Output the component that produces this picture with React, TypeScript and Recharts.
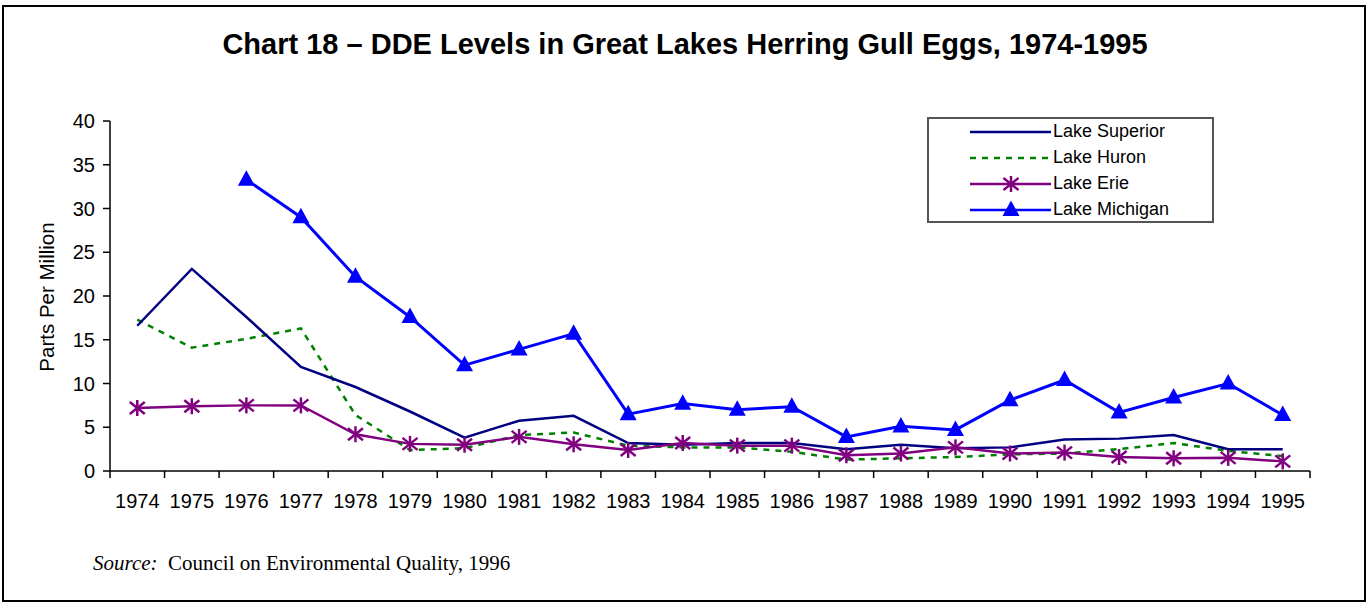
import React from "react";
import { LineChart, Line, XAxis, YAxis } from "recharts";

const YEARS = [
  "1974", "1975", "1976", "1977", "1978", "1979", "1980", "1981", "1982", "1983", "1984",
  "1985", "1986", "1987", "1988", "1989", "1990", "1991", "1992", "1993", "1994", "1995",
];
const SUPERIOR = [16.6, 23.1, 17.6, 11.9, 9.6, 6.8, 3.8, 5.75, 6.3, 3.2, 3.0, 3.2, 3.2, 2.5, 3.0, 2.6, 2.7, 3.6, 3.7, 4.1, 2.5, 2.5];
const HURON = [17.3, 14.1, 15.1, 16.3, 6.4, 2.4, 2.6, 4.1, 4.4, 2.9, 2.7, 2.7, 2.2, 1.3, 1.45, 1.6, 1.9, 2.0, 2.5, 3.2, 2.3, 1.7];
const ERIE = [7.2, 7.4, 7.5, 7.5, 4.2, 3.1, 3.0, 3.9, 3.05, 2.4, 3.2, 2.9, 2.9, 1.8, 2.0, 2.7, 2.0, 2.1, 1.6, 1.45, 1.5, 1.1];
const MICHIGAN = [null, null, 33.3, 29.0, 22.2, 17.6, 12.1, 13.9, 15.7, 6.5, 7.7, 7.0, 7.35, 3.9, 5.1, 4.7, 8.1, 10.4, 6.7, 8.4, 10.0, 6.4];
const Y_TICKS = [0, 5, 10, 15, 20, 25, 30, 35, 40];

const data = YEARS.map((year, i) => ({
  x: i,
  year,
  superior: SUPERIOR[i],
  huron: HURON[i],
  erie: ERIE[i],
  michigan: MICHIGAN[i],
}));

// tick marks sit between categories, labels in the middle of each band
const X_TICKS = [...YEARS.map((_, i) => i - 0.5), YEARS.length - 0.5];

const W = 1367;
const H = 602;
const PLOT_LEFT = 110;
const PLOT_RIGHT = 1310;
const PLOT_TOP = 121;
const PLOT_BOTTOM = 471;
const HALF_BAND = (PLOT_RIGHT - PLOT_LEFT) / YEARS.length / 2;

const SANS = "'Liberation Sans', Arial, sans-serif";
const SERIF = "'Liberation Serif', 'Times New Roman', serif";

const COLORS = {
  superior: "#000080",
  huron: "#008000",
  erie: "#800080",
  michigan: "#0000ff",
};

function YearTick(props: any) {
  const { x, y, payload } = props;
  const label = YEARS[payload.value + 0.5];
  if (!label) return null;
  return (
    <text x={x + HALF_BAND} y={y} dy="0.71em" textAnchor="middle" fill="#000" fontSize={20} fontFamily={SANS}>
      {label}
    </text>
  );
}

function Star(props: any) {
  const { cx, cy } = props;
  if (cx == null || cy == null) return null;
  const c = COLORS.erie;
  return (
    <g stroke={c} strokeWidth={2.5}>
      <line x1={cx} y1={cy - 8} x2={cx} y2={cy + 8} />
      <line x1={cx - 7.5} y1={cy - 6} x2={cx + 7.5} y2={cy + 6} />
      <line x1={cx - 7.5} y1={cy + 6} x2={cx + 7.5} y2={cy - 6} />
    </g>
  );
}

function Tri(props: any) {
  const { cx, cy, value } = props;
  if (cx == null || cy == null || value == null) return null;
  return (
    <path d={`M${cx},${cy - 9.5} L${cx + 8.5},${cy + 6} L${cx - 8.5},${cy + 6} Z`} fill={COLORS.michigan} />
  );
}

const LEGEND = [
  { name: "Lake Superior", color: COLORS.superior, dash: undefined, marker: null },
  { name: "Lake Huron", color: COLORS.huron, dash: "6 6", marker: null },
  { name: "Lake Erie", color: COLORS.erie, dash: undefined, marker: "star" },
  { name: "Lake Michigan", color: COLORS.michigan, dash: undefined, marker: "tri" },
];

export default function App() {
  return (
    <div style={{ position: "absolute", left: 0, top: 0, width: W, height: H, background: "#fff" }}>
      {/* outer frame */}
      <div
        style={{
          position: "absolute",
          left: 2,
          top: 5,
          width: 1360,
          height: 593,
          border: "2px solid #000",
        }}
      />

      <div
        style={{
          position: "absolute",
          left: 0,
          width: 1370,
          top: 28,
          textAlign: "center",
          fontFamily: SANS,
          fontWeight: "bold",
          fontSize: 29,
          color: "#000",
        }}
      >
        Chart 18 – DDE Levels in Great Lakes Herring Gull Eggs, 1974-1995
      </div>

      <LineChart
        width={W}
        height={H}
        data={data}
        margin={{ top: PLOT_TOP, left: PLOT_LEFT - 60, right: W - PLOT_RIGHT, bottom: H - PLOT_BOTTOM - 40 }}
        style={{ position: "absolute", left: 0, top: 0 }}
      >
        <XAxis
          dataKey="x"
          type="number"
          domain={[-0.5, YEARS.length - 0.5]}
          ticks={X_TICKS}
          interval={0}
          height={40}
          tickSize={7}
          tickMargin={16}
          axisLine={{ stroke: "#000", strokeWidth: 1.5 }}
          tickLine={{ stroke: "#000", strokeWidth: 1.5 }}
          tick={<YearTick />}
        />
        <YAxis
          domain={[0, 40]}
          ticks={Y_TICKS}
          interval={0}
          width={60}
          tickSize={7}
          tickMargin={8}
          axisLine={{ stroke: "#000", strokeWidth: 1.5 }}
          tickLine={{ stroke: "#000", strokeWidth: 1.5 }}
          tick={{ fill: "#000", fontSize: 20, fontFamily: SANS }}
        />
        <Line
          dataKey="huron"
          stroke={COLORS.huron}
          strokeWidth={2.5}
          strokeDasharray="6 6"
          dot={false}
          isAnimationActive={false}
        />
        <Line
          dataKey="superior"
          stroke={COLORS.superior}
          strokeWidth={2.5}
          dot={false}
          isAnimationActive={false}
        />
        <Line
          dataKey="erie"
          stroke={COLORS.erie}
          strokeWidth={2.5}
          dot={<Star />}
          isAnimationActive={false}
        />
        <Line
          dataKey="michigan"
          stroke={COLORS.michigan}
          strokeWidth={3}
          dot={<Tri />}
          isAnimationActive={false}
        />
      </LineChart>

      {/* y axis title */}
      <div
        style={{
          position: "absolute",
          left: 47,
          top: 297,
          transform: "translate(-50%, -50%) rotate(-90deg)",
          whiteSpace: "nowrap",
          fontFamily: SANS,
          fontSize: 20.5,
          color: "#000",
        }}
      >
        Parts Per Million
      </div>

      {/* legend */}
      <div
        style={{
          position: "absolute",
          left: 927,
          top: 117,
          width: 283,
          height: 102,
          border: "2px solid #555",
          background: "#fff",
        }}
      >
        {LEGEND.map((item, i) => (
          <div
            key={item.name}
            style={{
              position: "absolute",
              left: 0,
              top: -0.5 + i * 26,
              height: 26,
              display: "flex",
              alignItems: "center",
            }}
          >
            <svg width={124} height={26} style={{ display: "block" }}>
              <line x1={41} y1={13} x2={122} y2={13} stroke={item.color} strokeWidth={2.5} strokeDasharray={item.dash} />
              {item.marker === "star" && <Star cx={82} cy={13} />}
              {item.marker === "tri" && <Tri cx={82} cy={13} value={1} />}
            </svg>
            <span style={{ fontFamily: SANS, fontSize: 18, color: "#000", whiteSpace: "nowrap" }}>{item.name}</span>
          </div>
        ))}
      </div>

      <div
        style={{
          position: "absolute",
          left: 93,
          top: 551,
          fontFamily: SERIF,
          fontSize: 21,
          color: "#000",
          whiteSpace: "pre",
        }}
      >
        <i>Source:</i>
        {"  Council on Environmental Quality, 1996"}
      </div>
    </div>
  );
}
